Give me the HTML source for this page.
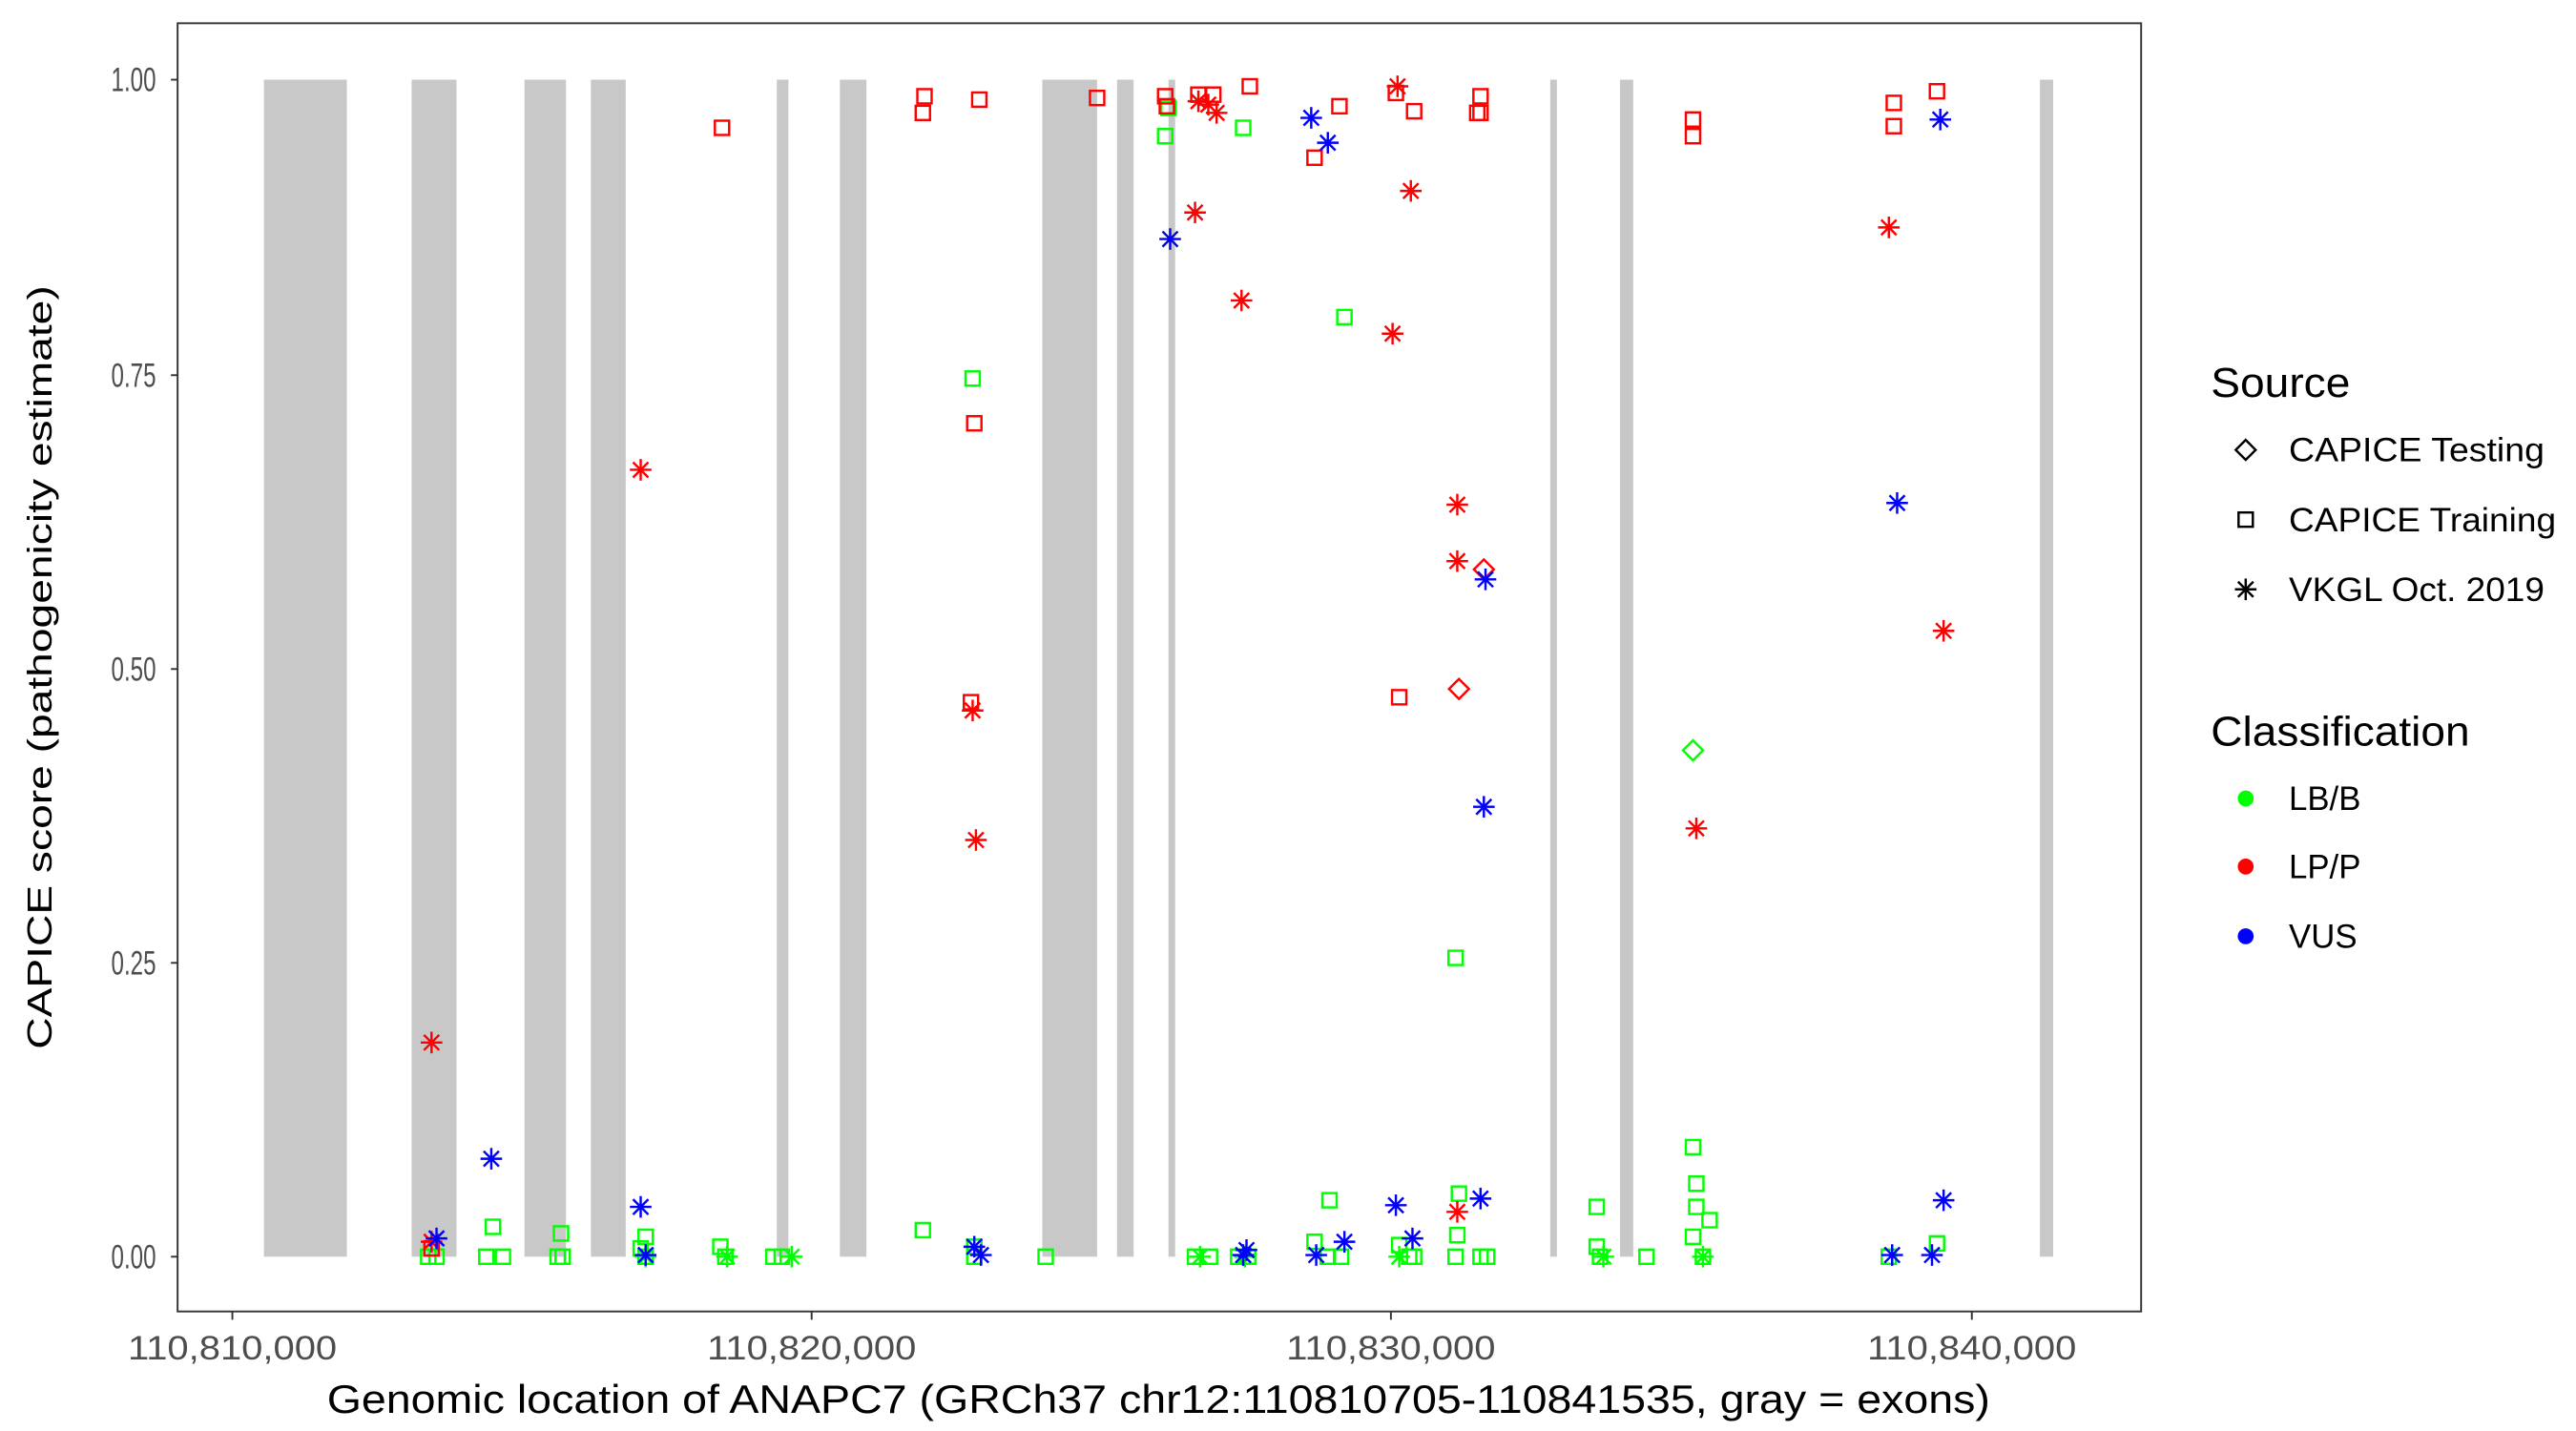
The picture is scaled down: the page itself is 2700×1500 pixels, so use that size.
<!DOCTYPE html>
<html><head><meta charset="utf-8"><style>
html,body{margin:0;padding:0;background:#fff;}
svg{display:block;}
.tk{font-family:"Liberation Sans Narrow","Liberation Sans",sans-serif;font-size:20px;fill:#4d4d4d;}
.lg{font-family:"Liberation Sans",sans-serif;font-size:20px;fill:#000;}
.lt{font-family:"Liberation Sans",sans-serif;font-size:25px;fill:#000;}
</style></head><body>
<svg width="2700" height="1500" viewBox="0 0 1552 862" preserveAspectRatio="none" xmlns="http://www.w3.org/2000/svg">
<defs>
<g id="s"><rect x="-4.3" y="-4.3" width="8.6" height="8.6" fill="none" stroke="currentColor" stroke-width="1.4"/></g>
<g id="a" stroke="currentColor" stroke-width="1.4"><line x1="0" y1="-6.5" x2="0" y2="6.5"/><line x1="-6.5" y1="0" x2="6.5" y2="0"/><line x1="-4.6" y1="-4.6" x2="4.6" y2="4.6"/><line x1="-4.6" y1="4.6" x2="4.6" y2="-4.6"/></g>
<g id="d"><polygon points="0,-6 6,0 0,6 -6,0" fill="none" stroke="currentColor" stroke-width="1.4"/></g>
</defs>
<rect x="0" y="0" width="1552" height="862" fill="#fff"/>
<g fill="#c8c8c8">
<rect x="159" y="48" width="50" height="709"/><rect x="248" y="48" width="27" height="709"/>
<rect x="316" y="48" width="25" height="709"/><rect x="356" y="48" width="21" height="709"/>
<rect x="468" y="48" width="7" height="709"/><rect x="506" y="48" width="16" height="709"/>
<rect x="628" y="48" width="33" height="709"/><rect x="673" y="48" width="10" height="709"/>
<rect x="704" y="48" width="4" height="709"/><rect x="934" y="48" width="4" height="709"/>
<rect x="976" y="48" width="8" height="709"/><rect x="1229" y="48" width="8" height="709"/>
</g>
<g color="#00ff00">
<use href="#s" x="258" y="757"/><use href="#s" x="263" y="757"/><use href="#s" x="297" y="739"/><use href="#s" x="293" y="757"/><use href="#s" x="303" y="757"/><use href="#s" x="338" y="743"/><use href="#s" x="336" y="757"/><use href="#s" x="339" y="757"/><use href="#s" x="389" y="745"/><use href="#s" x="389" y="757"/><use href="#s" x="386" y="752"/><use href="#s" x="434" y="751"/><use href="#s" x="437" y="757"/><use href="#s" x="466" y="757"/><use href="#s" x="471" y="757"/><use href="#s" x="556" y="741"/><use href="#s" x="587" y="757"/><use href="#s" x="587" y="751"/><use href="#s" x="630" y="757"/><use href="#s" x="720" y="757"/><use href="#s" x="729" y="757"/><use href="#s" x="746" y="757"/><use href="#s" x="752" y="757"/><use href="#s" x="792" y="748"/><use href="#s" x="801" y="723"/><use href="#s" x="800" y="757"/><use href="#s" x="808" y="757"/><use href="#s" x="843" y="750"/><use href="#s" x="849" y="757"/><use href="#s" x="852" y="757"/><use href="#s" x="879" y="719"/><use href="#s" x="878" y="744"/><use href="#s" x="877" y="757"/><use href="#s" x="892" y="757"/><use href="#s" x="896" y="757"/><use href="#s" x="962" y="727"/><use href="#s" x="962" y="751"/><use href="#s" x="964" y="757"/><use href="#s" x="992" y="757"/><use href="#s" x="1020" y="691"/><use href="#s" x="1022" y="713"/><use href="#s" x="1022" y="727"/><use href="#s" x="1020" y="745"/><use href="#s" x="1030" y="735"/><use href="#s" x="1026" y="757"/><use href="#s" x="1138" y="757"/><use href="#s" x="1167" y="749"/><use href="#s" x="877" y="577"/>
<use href="#s" x="702" y="82"/><use href="#s" x="704" y="65"/><use href="#s" x="749" y="77"/><use href="#s" x="810" y="191"/><use href="#s" x="586" y="228"/>
<use href="#a" x="389" y="757"/><use href="#a" x="438" y="757"/><use href="#a" x="477" y="757"/><use href="#a" x="750" y="757"/><use href="#a" x="1026" y="757"/><use href="#a" x="966" y="757"/><use href="#a" x="843" y="757"/><use href="#a" x="723" y="757"/>
<use href="#d" x="1020" y="452"/>
</g>
<g color="#ff0000">
<use href="#s" x="435" y="77"/><use href="#s" x="556" y="68"/><use href="#s" x="557" y="58"/><use href="#s" x="590" y="60"/><use href="#s" x="661" y="59"/><use href="#s" x="702" y="58"/><use href="#s" x="703" y="64"/><use href="#s" x="722" y="57"/><use href="#s" x="731" y="57"/><use href="#s" x="753" y="52"/><use href="#s" x="792" y="95"/><use href="#s" x="807" y="64"/><use href="#s" x="841" y="56"/><use href="#s" x="852" y="67"/><use href="#s" x="892" y="58"/><use href="#s" x="892" y="68"/><use href="#s" x="890" y="68"/><use href="#s" x="1020" y="72"/><use href="#s" x="1020" y="82"/><use href="#s" x="1141" y="62"/><use href="#s" x="1141" y="76"/><use href="#s" x="1167" y="55"/><use href="#s" x="587" y="255"/><use href="#s" x="585" y="423"/><use href="#s" x="843" y="420"/><use href="#s" x="260" y="752"/>
<use href="#a" x="722" y="61"/><use href="#a" x="728" y="63"/><use href="#a" x="733" y="68"/><use href="#a" x="720" y="128"/><use href="#a" x="748" y="181"/><use href="#a" x="842" y="52"/><use href="#a" x="850" y="115"/><use href="#a" x="839" y="201"/><use href="#a" x="878" y="304"/><use href="#a" x="878" y="338"/><use href="#a" x="386" y="283"/><use href="#a" x="260" y="628"/><use href="#a" x="586" y="428"/><use href="#a" x="588" y="506"/><use href="#a" x="1138" y="137"/><use href="#a" x="1171" y="380"/><use href="#a" x="1022" y="499"/><use href="#a" x="878" y="730"/><use href="#a" x="260" y="748"/>
<use href="#d" x="879" y="415"/><use href="#d" x="894" y="343"/>
</g>
<g color="#0000ff">
<use href="#a" x="705" y="144"/><use href="#a" x="790" y="71"/><use href="#a" x="800" y="86"/><use href="#a" x="895" y="349"/><use href="#a" x="1143" y="303"/><use href="#a" x="1169" y="72"/><use href="#a" x="894" y="486"/><use href="#a" x="296" y="698"/><use href="#a" x="263" y="746"/><use href="#a" x="386" y="727"/><use href="#a" x="892" y="722"/><use href="#a" x="841" y="726"/><use href="#a" x="1171" y="723"/><use href="#a" x="810" y="748"/><use href="#a" x="851" y="746"/><use href="#a" x="587" y="751"/><use href="#a" x="591" y="756"/><use href="#a" x="749" y="756"/><use href="#a" x="751" y="753"/><use href="#a" x="793" y="756"/><use href="#a" x="1140" y="756"/><use href="#a" x="1164" y="756"/><use href="#a" x="389" y="756"/>
</g>
<rect x="107" y="14" width="1183" height="776" fill="none" stroke="#333" stroke-width="1.1"/>
<g stroke="#333" stroke-width="1.1">
<line x1="103" y1="48" x2="107" y2="48"/><line x1="103" y1="226" x2="107" y2="226"/><line x1="103" y1="403" x2="107" y2="403"/><line x1="103" y1="580" x2="107" y2="580"/><line x1="103" y1="757" x2="107" y2="757"/>
<line x1="140" y1="790" x2="140" y2="795"/><line x1="489" y1="790" x2="489" y2="795"/><line x1="838" y1="790" x2="838" y2="795"/><line x1="1188" y1="790" x2="1188" y2="795"/>
</g>
<g class="tk" text-anchor="end">
<text x="94" y="55" textLength="27" lengthAdjust="spacingAndGlyphs">1.00</text><text x="94" y="233" textLength="27" lengthAdjust="spacingAndGlyphs">0.75</text><text x="94" y="410" textLength="27" lengthAdjust="spacingAndGlyphs">0.50</text><text x="94" y="587" textLength="27" lengthAdjust="spacingAndGlyphs">0.25</text><text x="94" y="764" textLength="27" lengthAdjust="spacingAndGlyphs">0.00</text>
</g>
<g class="tk" text-anchor="middle">
<text x="140" y="819" textLength="126" lengthAdjust="spacingAndGlyphs">110,810,000</text><text x="489" y="819" textLength="126" lengthAdjust="spacingAndGlyphs">110,820,000</text><text x="838" y="819" textLength="126" lengthAdjust="spacingAndGlyphs">110,830,000</text><text x="1188" y="819" textLength="126" lengthAdjust="spacingAndGlyphs">110,840,000</text>
</g>
<text x="698" y="851" text-anchor="middle" font-family="Liberation Sans Narrow, Liberation Sans, sans-serif" font-size="24" textLength="1002" lengthAdjust="spacingAndGlyphs">Genomic location of ANAPC7 (GRCh37 chr12:110810705-110841535, gray = exons)</text>
<text transform="translate(31,402) rotate(-90)" text-anchor="middle" font-family="Liberation Sans, sans-serif" font-size="21" textLength="460" lengthAdjust="spacingAndGlyphs">CAPICE score (pathogenicity estimate)</text>
<text class="lt" x="1332" y="239" textLength="84" lengthAdjust="spacingAndGlyphs">Source</text>
<use href="#d" x="1353" y="271" color="#000"/>
<use href="#s" x="1353" y="313" color="#000"/>
<use href="#a" x="1353" y="355" color="#000"/>
<text class="lg" x="1379" y="278" textLength="154" lengthAdjust="spacingAndGlyphs">CAPICE Testing</text>
<text class="lg" x="1379" y="320" textLength="161" lengthAdjust="spacingAndGlyphs">CAPICE Training</text>
<text class="lg" x="1379" y="362" textLength="154" lengthAdjust="spacingAndGlyphs">VKGL Oct. 2019</text>
<text class="lt" x="1332" y="449" textLength="156" lengthAdjust="spacingAndGlyphs">Classification</text>
<circle cx="1353" cy="481" r="4.8" fill="#00ff00"/><circle cx="1353" cy="522" r="4.8" fill="#ff0000"/><circle cx="1353" cy="564" r="4.8" fill="#0000ff"/>
<text class="lg" x="1379" y="488">LB/B</text>
<text class="lg" x="1379" y="529">LP/P</text>
<text class="lg" x="1379" y="571">VUS</text>
</svg>
</body></html>
